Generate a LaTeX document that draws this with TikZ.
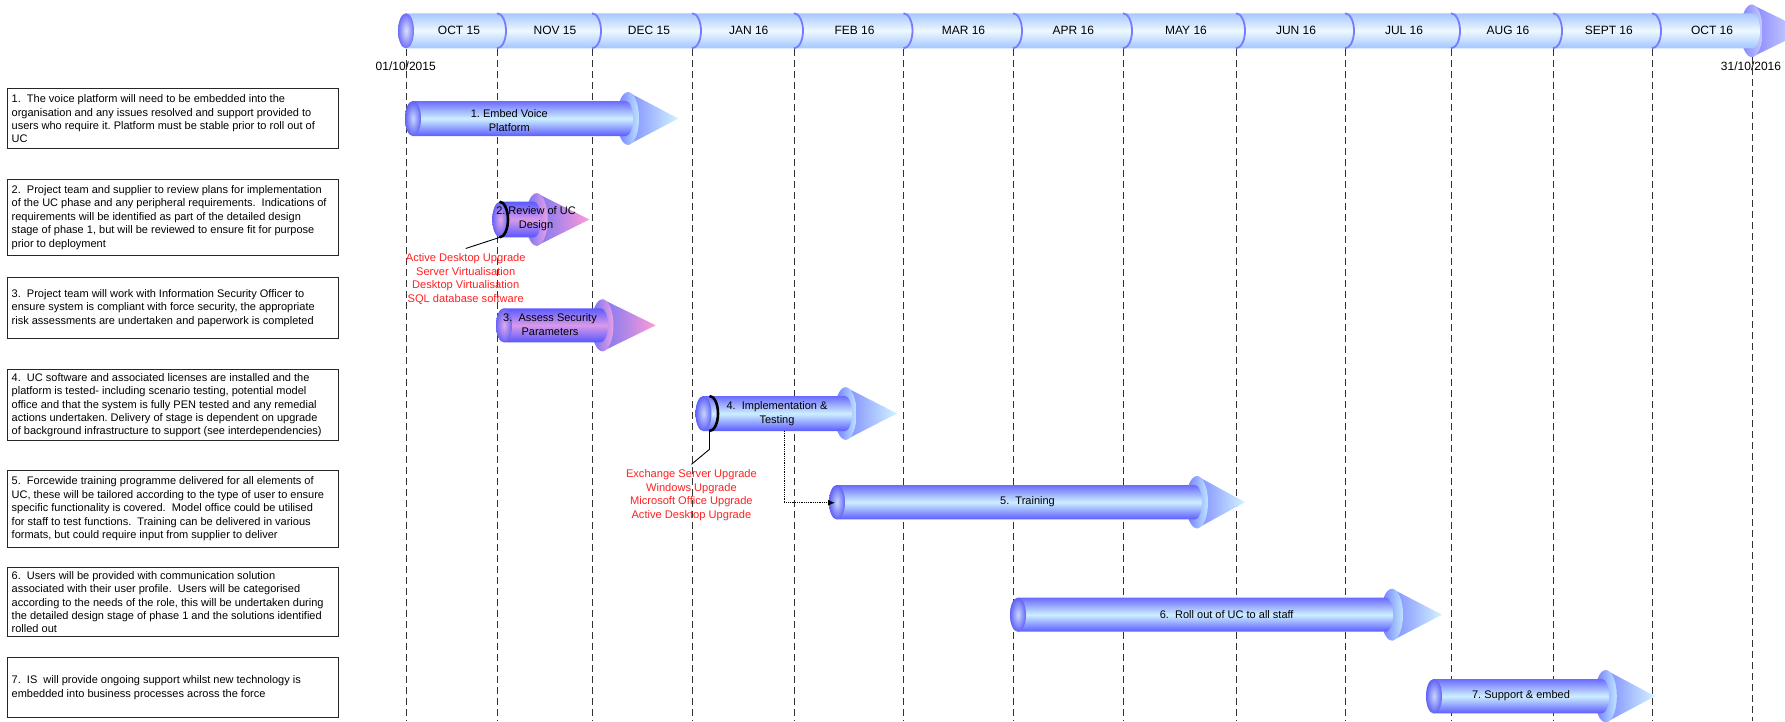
\documentclass[tikz,border=0pt]{standalone}
\usepackage{fontspec}
\setmainfont{Liberation Sans}
\usetikzlibrary{arrows.meta}
% blue arrows
\definecolor{BsT}{HTML}{6B6BFF}\definecolor{BsM}{HTML}{CDEFFF}\definecolor{BsB}{HTML}{5C5CFF}
\definecolor{BcapI}{HTML}{C6D6FF}\definecolor{BcapO}{HTML}{6262F5}
\definecolor{BcL}{HTML}{7F8CFF}\definecolor{BcR}{HTML}{D2F3FF}
\definecolor{BbL}{HTML}{6E78FF}\definecolor{BbR}{HTML}{BFE6FF}
% pink arrows
\definecolor{PsT}{HTML}{5B5BFF}\definecolor{PsM}{HTML}{D99AE8}\definecolor{PsB}{HTML}{5656FF}
\definecolor{PcapI}{HTML}{E2A8EE}\definecolor{PcapO}{HTML}{6A64F2}
\definecolor{PcL}{HTML}{7A78F2}\definecolor{PcR}{HTML}{FF9AD8}
\definecolor{PbL}{HTML}{7070F0}\definecolor{PbR}{HTML}{E8A0E8}
% timeline
\definecolor{TsT}{HTML}{A6C8FF}\definecolor{TsM}{HTML}{EEF8FF}\definecolor{TsB}{HTML}{A2C6FF}
\definecolor{TcapI}{HTML}{DCE2FF}\definecolor{TcapO}{HTML}{6E6EFA}
\definecolor{TcL}{HTML}{8585FF}\definecolor{TcR}{HTML}{E2E6FF}
\definecolor{TbL}{HTML}{8080FF}\definecolor{TbR}{HTML}{C8CCFF}
\definecolor{divc}{HTML}{7A7AFF}
\definecolor{redc}{HTML}{FF2020}
% #1 cap centre x, #2 shaft end x, #3 centre y, #4 shaft half height,
% #5 cone base x, #6 cone half height, #7 tip x, #8 colour scheme
\newcommand\cylarrow[8]{%
  \shade[left color=#8cL, right color=#8cR] ({#5},{#3-#6}) -- ({#7},{#3}) -- ({#5},{#3+#6}) -- cycle;
  \shade[left color=#8bL, right color=#8bR] ({#5},{#3}) ellipse[x radius=11, y radius=#6];
  \shade[top color=#8sT, bottom color=#8sB, middle color=#8sM]
    ({#1},{#3-#4}) -- ({#2},{#3-#4}) arc[start angle=270, end angle=450, x radius=7, y radius=#4]
    -- ({#1},{#3+#4}) arc[start angle=90, end angle=270, x radius=8, y radius=#4] -- cycle;
  \shade[inner color=#8capI, outer color=#8capO] ({#1},{#3}) ellipse[x radius=8, y radius=#4];
}
\tikzset{
  dline/.style={dash pattern=on 7pt off 4pt, line width=0.8pt, draw=black!80},
  tdiv/.style={draw=divc, line width=1.8pt},
  descbox/.style={draw=black!85, line width=1pt, anchor=north west,
    minimum width=331.4pt, inner sep=0pt},
  desctext/.style={anchor=west, align=left, inner sep=0pt,
    font=\fontsize{11}{13.4}\selectfont\frenchspacing},
  bartext/.style={align=center, inner sep=0pt, font=\fontsize{11}{14}\selectfont\frenchspacing},
  redtext/.style={align=center, text=redc, inner sep=5pt, font=\fontsize{11.1}{13.5}\selectfont},
  monthlbl/.style={font=\fontsize{12}{14}\selectfont, inner sep=0pt},
  leader/.style={draw=black, line width=0.9pt},
  blackarc/.style={draw=black, line width=2.6pt},
}
\begin{document}
\begin{tikzpicture}[x=1pt,y=-1pt]
\useasboundingbox (0,0) rectangle (1785,721);
\clip (0,0) rectangle (1785,721);

% dashed month lines
\foreach \d in {406,497,592,692,794,903.5,1013,1123,1236,1345,1451,1553,1652}
  \draw[dline] (\d,49) -- (\d,721);
\draw[dline] (1752,57) -- (1752,721);

% description boxes
\node[descbox, minimum height=60pt] (b1) at (6.9,88.3) {};
\node[desctext] (t1) at ([xshift=4.6pt]b1.west) {1.~ The voice platform will need to be embedded into the\\organisation and any issues resolved and support provided to\\users who require it. Platform must be stable prior to roll out of\\UC};
\node[descbox, minimum height=76pt] (b2) at (6.9,179) {};
\node[desctext] (t2) at ([xshift=4.6pt]b2.west) {2.~ Project team and supplier to review plans for implementation\\of the UC phase and any peripheral requirements.~ Indications of\\requirements will be identified as part of the detailed design\\stage of phase 1, but will be reviewed to ensure fit for purpose\\prior to deployment};
\node[descbox, minimum height=60.4pt] (b3) at (6.9,277.3) {};
\node[desctext] (t3) at ([xshift=4.6pt]b3.west) {3.~ Project team will work with Information Security Officer to\\ensure system is compliant with force security, the appropriate\\risk assessments are undertaken and paperwork is completed};
\node[descbox, minimum height=70.7pt] (b4) at (6.9,369.3) {};
\node[desctext] (t4) at ([xshift=4.6pt]b4.west) {4.~ UC software and associated licenses are installed and the\\platform is tested- including scenario testing, potential model\\office and that the system is fully PEN tested and any remedial\\actions undertaken. Delivery of stage is dependent on upgrade\\of background infrastructure to support (see interdependencies)};
\node[descbox, minimum height=76.7pt] (b5) at (6.9,470) {};
\node[desctext] (t5) at ([xshift=4.6pt]b5.west) {5.~ Forcewide training programme delivered for all elements of\\UC, these will be tailored according to the type of user to ensure\\specific functionality is covered.~ Model office could be utilised\\for staff to test functions.~ Training can be delivered in various\\formats, but could require input from supplier to deliver};
\node[descbox, minimum height=68.7pt] (b6) at (6.9,567.3) {};
\node[desctext] (t6) at ([xshift=4.6pt]b6.west) {6.~ Users will be provided with communication solution\\associated with their user profile.~ Users will be categorised\\according to the needs of the role, this will be undertaken during\\the detailed design stage of phase 1 and the solutions identified\\rolled out};
\node[descbox, minimum height=60pt] (b7) at (6.9,657.3) {};
\node[desctext] (t7) at ([xshift=4.6pt]b7.west) {7.~ IS~ will provide ongoing support whilst new technology is\\embedded into business processes across the force};

% timeline bar
\cylarrow{406}{1753}{30.8}{17.5}{1751.7}{26.3}{1806}{T}
\foreach \d in {497,592,692,794,903.5,1013,1123,1236,1345,1451,1553,1652}
  \draw[tdiv] (\d,13.3) arc[start angle=270, end angle=450, x radius=9, y radius=17.5];
\node[monthlbl] (m1) at (459,30) {OCT 15};
\node[monthlbl] (m2) at (555,30) {NOV 15};
\node[monthlbl] (m3) at (649,30) {DEC 15};
\node[monthlbl] (m4) at (748.7,30) {JAN 16};
\node[monthlbl] (m5) at (854.5,30) {FEB 16};
\node[monthlbl] (m6) at (963.5,30) {MAR 16};
\node[monthlbl] (m7) at (1073.4,30) {APR 16};
\node[monthlbl] (m8) at (1186,30) {MAY 16};
\node[monthlbl] (m9) at (1296,30) {JUN 16};
\node[monthlbl] (m10) at (1404,30) {JUL 16};
\node[monthlbl] (m11) at (1508,30) {AUG 16};
\node[monthlbl] (m12) at (1608.8,30) {SEPT 16};
\node[monthlbl] (m13) at (1712,30) {OCT 16};
\node[monthlbl] (d1) at (405.7,66.7) {01/10/2015};
\node[monthlbl] (d2) at (1751,66.7) {31/10/2016};

% task arrows
\cylarrow{413}{626}{118.5}{17.5}{628}{26.4}{678.3}{B}
\cylarrow{500.3}{534}{219.5}{17.8}{536.7}{26.3}{589.3}{P}
\cylarrow{504}{601}{325.3}{17}{602.5}{26}{655.7}{P}
\cylarrow{703.5}{845}{413.5}{17.5}{845.6}{26.3}{897}{B}
\cylarrow{837}{1195}{502.2}{17.2}{1197}{26.2}{1245}{B}
\cylarrow{1018}{1386}{614.7}{17}{1392}{25.9}{1442}{B}
\cylarrow{1434}{1602}{696.2}{17.2}{1605.8}{26.2}{1655}{B}

% black dependency arcs
\draw[blackarc] (499.5,201.7) arc[start angle=270, end angle=450, x radius=8.5, y radius=17.8];
\draw[blackarc] (709.5,396) arc[start angle=270, end angle=450, x radius=8.5, y radius=17.5];

% arrow labels
\node[bartext] (at1) at (509.3,120.3) {1. Embed Voice\\Platform};
\node[bartext] (at2) at (536,218.8) {2. Review of UC\\Design};
\node[bartext] (at3) at (550,324.6) {3.~ Assess Security\\Parameters};
\node[bartext] (at4) at (777,413.7) {4.~ Implementation \&\\Testing};
\node[bartext] (at5) at (1027.5,501.7) {5.~ Training};
\node[bartext] (at6) at (1226.7,614.3) {6.~ Roll out of UC to all staff};
\node[bartext] (at7) at (1521,696) {7. Support \& embed};

% red dependency notes
\node[redtext] (r2) at (465.7,279) {Active Desktop Upgrade\\Server Virtualisation\\Desktop Virtualisation\\SQL database software};
\node[redtext] (r4) at (691.4,495) {Exchange Server Upgrade\\Windows Upgrade\\Microsoft Office Upgrade\\Active Desktop Upgrade};

% leaders
\coordinate (a2k) at (500,237.3);
\draw[leader] (a2k) -- (r2.north);
\coordinate (a4k) at (709.5,431);
\coordinate (a4m) at (709.5,449.3);
\draw[leader] (a4k) -- (a4m) -- (r4.north);

% dependency 4 -> 5
\coordinate (a4o) at (784,431);
\coordinate (a5i) at (835,502.7);
\draw[densely dotted, line width=0.8pt, -{Latex[length=7pt,width=6pt]}] (a4o) |- (a5i);
\end{tikzpicture}
\end{document}
